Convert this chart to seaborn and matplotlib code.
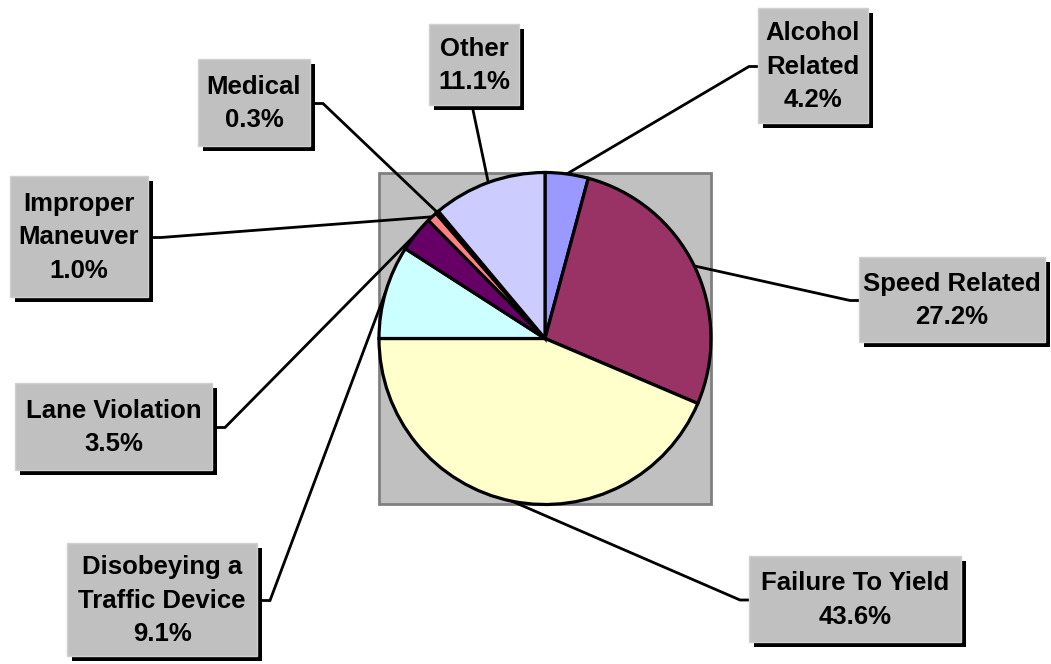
import numpy as np
import matplotlib
matplotlib.use("Agg")
import matplotlib.pyplot as plt
import seaborn as sns
from matplotlib.patches import Rectangle

# données : causes des accidents (en %)
causes = ["Alcohol\nRelated", "Speed Related", "Failure To Yield",
          "Disobeying a\nTraffic Device", "Lane Violation",
          "Improper\nManeuver", "Medical", "Other"]
percent = [4.2, 27.2, 43.6, 9.1, 3.5, 1.0, 0.3, 11.1]
colors = ["#9999FF", "#993366", "#FFFFCC", "#CCFFFF", "#660066",
          "#FF8080", "#0B2A5C", "#CCCCFF"]

# mise en page (pixels, origine en haut à gauche)
W, H = 1051, 664
center_px = (545, 338.5)
radius = 166
plot_area = (379, 173, 711, 504)
# boîtes d'étiquettes : gauche, haut, droite, bas
boxes = [(758, 8, 868, 123), (859, 257, 1045, 342), (749, 556, 961, 642),
         (67, 543, 257, 656), (15, 383, 212, 470), (10, 176, 148, 297),
         (198, 59, 310, 146), (429, 24, 519, 105)]
# côté d'attache de la ligne de rappel
sides = ["left", "left", "left", "right", "right", "right", "right", "bottom"]

sns.set_style("white")
plt.rcParams["font.family"] = ["Liberation Sans", "DejaVu Sans"]

fig = plt.figure(figsize=(W / 100, H / 100), dpi=100)
ax = fig.add_axes([0, 0, 1, 1])


def Y(py):
    return H - py


# fond gris de la zone du graphe
x0, y0, x1, y1 = plot_area
ax.add_patch(Rectangle((x0, Y(y1)), x1 - x0, y1 - y0, facecolor="#C0C0C0",
                       edgecolor="#808080", linewidth=2, zorder=0))

wedges, _ = ax.pie(percent, colors=colors, startangle=90, counterclock=False,
                   center=(center_px[0], Y(center_px[1])), radius=radius,
                   wedgeprops=dict(edgecolor="black", linewidth=2.3))
for w in wedges:
    w.set_zorder(2)

sh = 5  # décalage de l'ombre
for w, lab, pct, (l, t, r, b), side in zip(wedges, causes, percent, boxes, sides):
    ang = np.deg2rad((w.theta1 + w.theta2) / 2)
    px = center_px[0] + radius * np.cos(ang)
    py = center_px[1] - radius * np.sin(ang)
    if side == "left":
        ex, ey = l, (t + b) / 2 + 1
        pts = [(px, py), (ex - 9, ey), (ex, ey)]
    elif side == "right":
        ex, ey = r + sh, (t + b) / 2 + 1
        pts = [(px, py), (ex + 8, ey), (ex, ey)]
    else:
        ex, ey = (l + r) / 2 - 1, b + sh
        pts = [(px, py), (ex, ey)]
    ax.plot([p[0] for p in pts], [Y(p[1]) for p in pts], color="black",
            linewidth=2, zorder=1, solid_joinstyle="miter")

    ax.add_patch(Rectangle((l + sh, Y(b + sh)), r - l, b - t,
                           facecolor="black", edgecolor="none", zorder=3))
    ax.add_patch(Rectangle((l, Y(b)), r - l, b - t, facecolor="#C0C0C0",
                           edgecolor="#D0D0D0", linewidth=1, zorder=4))
    ax.text((l + r) / 2, Y((t + b) / 2 + 1), f"{lab}\n{pct:.1f}%", ha="center",
            va="center", fontsize=18.5, fontweight="bold", linespacing=1.5,
            color="black", zorder=5)

ax.set_xlim(0, W)
ax.set_ylim(0, H)
ax.set_aspect("auto")
ax.axis("off")

fig.savefig("out.png", dpi=100, facecolor="white")
